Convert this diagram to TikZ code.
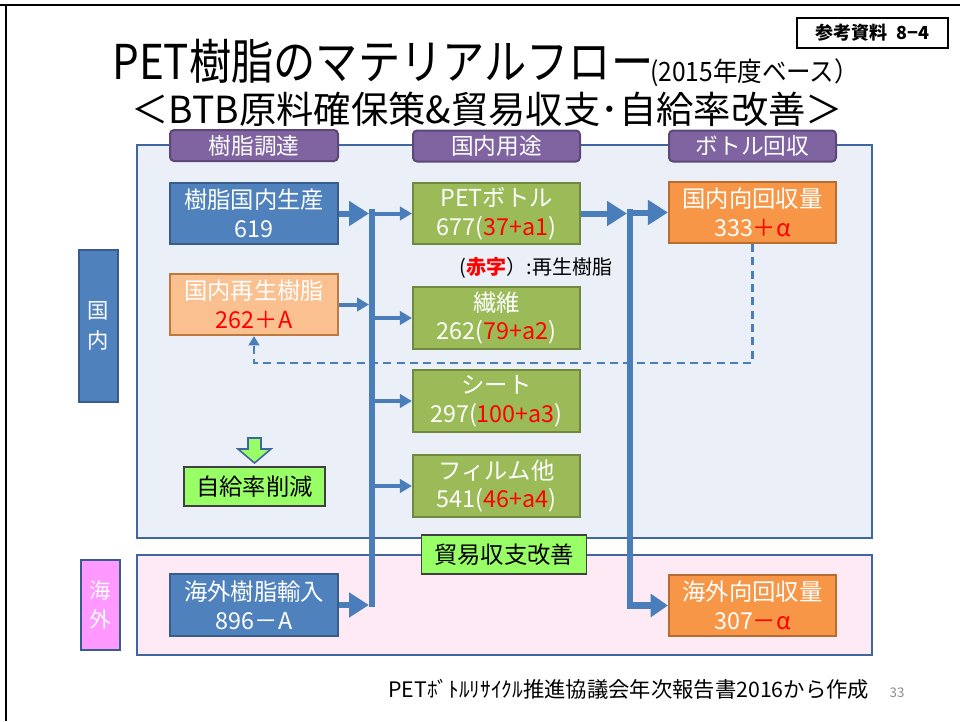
\documentclass[tikz,border=0pt]{standalone}
\usepackage{fontspec}
\setmainfont{Noto Sans CJK JP}
\usetikzlibrary{arrows.meta}
\definecolor{panelblue}{HTML}{EBF0F8}
\definecolor{panelpink}{HTML}{FDEAF5}
\definecolor{panelline}{HTML}{3F66A0}
\definecolor{boxblue}{HTML}{4F81BD}
\definecolor{boxblueD}{HTML}{385D8A}
\definecolor{tabpurple}{HTML}{8064A2}
\definecolor{tabpurpleD}{HTML}{5C4776}
\definecolor{boxgreen}{HTML}{9BBB59}
\definecolor{boxgreenD}{HTML}{71893F}
\definecolor{boxorange}{HTML}{F79646}
\definecolor{boxorangeD}{HTML}{B66D31}
\definecolor{lightorange}{HTML}{FAC090}
\definecolor{lightorangeD}{HTML}{BE7A3C}
\definecolor{labelpink}{HTML}{FF99FF}
\definecolor{limegreen}{HTML}{99FF66}
\definecolor{busblue}{HTML}{4A7EBB}
\definecolor{redtxt}{HTML}{FF0000}
\definecolor{pagegrey}{HTML}{8C8C8C}
\begin{document}
\begin{tikzpicture}[x=0.75pt,y=-0.75pt,
  box/.style={draw, line width=1.6pt, text=white, align=center, inner sep=0pt,
    font=\fontsize{17.5}{21.5}\selectfont, minimum width=168*0.75pt, minimum height=61*0.75pt},
  bluebox/.style={box, fill=boxblue, draw=boxblueD},
  greenbox/.style={box, fill=boxgreen, draw=boxgreenD, minimum width=167*0.75pt, minimum height=62*0.75pt},
  orangebox/.style={box, fill=boxorange, draw=boxorangeD, minimum width=167*0.75pt},
  lorangebox/.style={box, fill=lightorange, draw=lightorangeD},
  tab/.style={draw=tabpurpleD, fill=tabpurple, line width=1.5pt, rounded corners=3pt, text=white,
    inner sep=0pt, font=\fontsize{17}{20}\selectfont, minimum width=167*0.75pt, minimum height=31*0.75pt},
  sidelabel/.style={draw=boxblueD, line width=1.5pt, text=white, align=center, inner sep=0pt,
    font=\fontsize{16}{22}\selectfont, minimum width=39*0.75pt},
  limebox/.style={draw=black!75, line width=0.8pt, fill=limegreen, text=black, inner sep=0pt,
    font=\fontsize{17.5}{20}\selectfont},
  panel/.style={draw=panelline, line width=1.5pt},
  bus/.style={draw=busblue, line width=5.2pt},
  bigarrow/.style={draw=busblue, line width=4.5pt, -{Triangle[length=15pt,width=18pt]}},
  smallarrow/.style={draw=busblue, line width=3pt, -{Triangle[length=9pt,width=10pt]}},
  dashline/.style={draw=busblue, line width=2pt, dash pattern=on 6pt off 4pt, -{Triangle[length=7pt,width=8pt]}}
]
\useasboundingbox (0,0) rectangle (960,721);
% page frame
\draw[line width=2.2pt, black] (0,5) -- (960,5);
\draw[line width=2.2pt, black] (6,5) -- (6,721);

% titles
\node[anchor=base west, inner sep=0pt] (title) at (112,79) {\scalebox{0.88}[1]{\fontsize{36}{40}\selectfont PET樹脂のマテリアルフロー}};
\node[anchor=base west, inner sep=0pt] (year) at (650,81) {\scalebox{0.92}[1]{\fontsize{20}{22}\selectfont (2015年度ベース）}};
\node[anchor=base west, inner sep=0pt] (subtitle) at (131,123) {\fontsize{28}{32}\selectfont ＜BTB原料確保策\&貿易収支･自給率改善＞};
\node[draw=black, line width=1pt, fill=white, inner sep=0pt, minimum width=151*0.75pt, minimum height=30*0.75pt,
  font=\fontsize{13.5}{15}\selectfont\bfseries] (ref) at (872.5,33) {参考資料\ \ 8−4};

% panels
\draw[panel, fill=panelblue] (137,145) rectangle (872,538);
\draw[panel, fill=panelpink] (137,555) rectangle (872,655);

% side labels
\node[sidelabel, fill=boxblue, minimum height=152*0.75pt] (kokunai) at (98.5,326) {国\\内};
\node[sidelabel, fill=labelpink, minimum height=90*0.75pt] (kaigai) at (100,605) {海\\外};

% tabs
\node[tab, minimum width=168*0.75pt] (tab1) at (254,145.5) {樹脂調達};
\node[tab] (tab2) at (496.5,146) {国内用途};
\node[tab] (tab3) at (752.5,146) {ボトル回収};

% boxes
\node[bluebox] (prod) at (254,213.5) {樹脂国内生産\\619};
\node[lorangebox] (recyc) at (254,304.5) {国内再生樹脂\\\textcolor{redtxt}{262＋A}};
\node[bluebox, minimum height=62*0.75pt] (imp) at (254,605) {海外樹脂輸入\\896－A};
\node[greenbox, minimum height=61*0.75pt] (pet) at (496.5,213.5) {PETボトル\\677(\textcolor{redtxt}{37+a1})};
\node[greenbox] (fiber) at (496.5,318) {繊維\\262(\textcolor{redtxt}{79+a2})};
\node[greenbox] (sheet) at (496.5,401) {シート\\297(\textcolor{redtxt}{100+a3})};
\node[greenbox] (film) at (496.5,486) {フィルム他\\541(\textcolor{redtxt}{46+a4})};
\node[orangebox] (dom) at (752.5,212.5) {国内向回収量\\333\textcolor{redtxt}{＋α}};
\node[orangebox] (ovs) at (752.5,605.5) {海外向回収量\\307\textcolor{redtxt}{－α}};

% legend
\node[inner sep=0pt, font=\fontsize{15}{18}\selectfont] (legend) at (536,268)
  {(\textcolor{redtxt}{\bfseries 赤字}）:再生樹脂};

% bus coordinates
\coordinate (b1) at (372,209);
\coordinate (b1end) at (372,607);
\coordinate (b1in) at (369,0);
\coordinate (b2) at (630,209);
\coordinate (b2in) at (627,0);
\coordinate (dcorner) at (752.5,363);

% dashed return
\draw[dashline] (dom.south) -- (dcorner) -| (recyc.south);

% buses
\draw[bus] (b1) -- (b1end);
\draw[bus, -{Triangle[length=13pt,width=17pt]}] (b2) |- (ovs.west);

% arrows into bus 1
\draw[bigarrow] (prod.east) -- (prod.east -| b1in);
\draw[smallarrow] (recyc.east) -- (recyc.east -| b1in);
\draw[bigarrow] (imp.east) -- (imp.east -| b1in);
% arrows out of bus 1
\draw[smallarrow] (pet.west -| b1) -- (pet.west);
\draw[smallarrow] (fiber.west -| b1) -- (fiber.west);
\draw[smallarrow] (sheet.west -| b1) -- (sheet.west);
\draw[smallarrow] (film.west -| b1) -- (film.west);
% bus 2
\draw[bigarrow] (pet.east) -- (pet.east -| b2in);
\draw[bigarrow] (dom.west -| b2) -- (dom.west);

% self-sufficiency
\node[limebox, minimum width=141*0.75pt, minimum height=39*0.75pt] (jikyu) at (254.5,486.5) {自給率削減};
\draw[draw=panelline, line width=1.2pt, fill=limegreen]
  (248,438) -- (261,438) -- (261,449) -- (271,449) -- (254.5,463) -- (238,449) -- (248,449) -- cycle;
\node[limebox, minimum width=165*0.75pt, minimum height=39*0.75pt] (boeki) at (504,554.5) {貿易収支改善};

% footer
\node[anchor=base west, inner sep=0pt, font=\fontsize{16}{18}\selectfont] (src) at (388,697)
  {PETﾎﾞﾄﾙﾘｻｲｸﾙ推進協議会年次報告書2016から作成};
\node[inner sep=0pt, text=pagegrey, font=\fontsize{10}{12}\selectfont] (page) at (897,693) {33};
\end{tikzpicture}
\end{document}
